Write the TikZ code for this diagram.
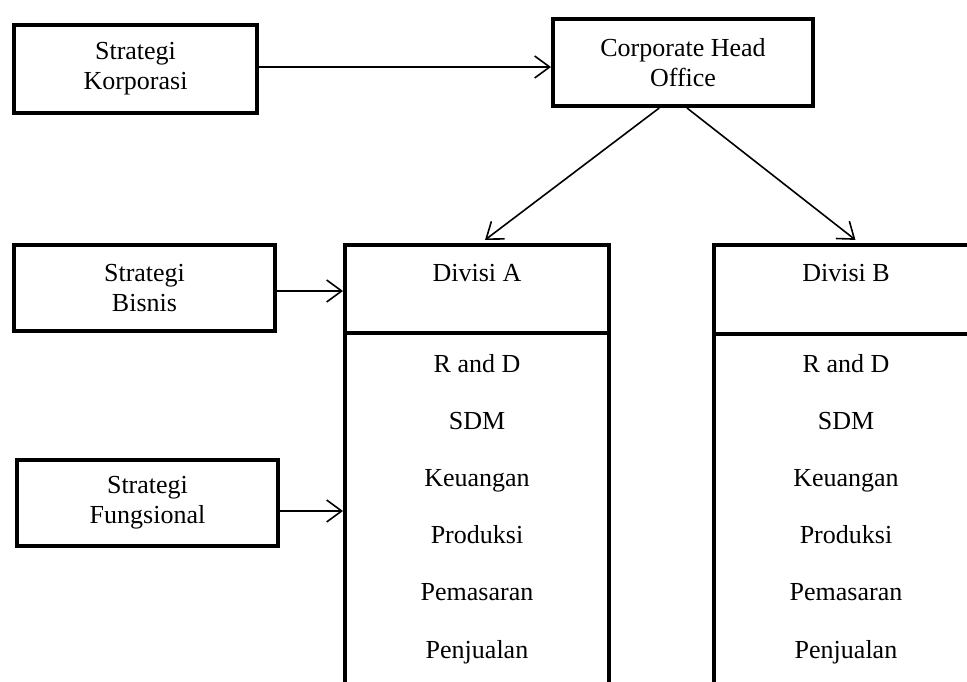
\documentclass[tikz,border=0pt]{standalone}
\usepackage{fontspec}
\setmainfont{Liberation Serif}
\usetikzlibrary{arrows.meta,calc}
\begin{document}
\begin{tikzpicture}[x=1pt,y=-1pt,
  txt/.style={font=\fontsize{26}{30}\selectfont},
  box/.style={draw,line width=4pt,txt,align=center,inner sep=0pt},
  arr/.style={line width=1.6pt,-{Straight Barb[length=15pt,width=22pt,line width=1.6pt]}},
  item/.style={txt,anchor=base,inner sep=0pt},
  thickline/.style={line width=4pt}]
\useasboundingbox (0,0) rectangle (967,682);
\node[box,minimum width=243pt,minimum height=88pt] (korp) at (135.5,69) {Strategi\\Korporasi};
\node[box,minimum width=260pt,minimum height=87pt] (cho) at (683,62.5) {Corporate Head\\Office};
\node[box,minimum width=261pt,minimum height=86pt] (bis) at (144.5,288) {Strategi\\Bisnis};
\node[box,minimum width=261pt,minimum height=86pt] (fun) at (147.5,503) {Strategi\\Fungsional};
\node[draw,thickline,minimum width=264pt,minimum height=88pt,inner sep=0pt] (divA) at (477,289) {};
\node[draw,thickline,minimum width=264pt,minimum height=89pt,inner sep=0pt] (divB) at (846,289.5) {};
\node[item] (tA) at (477,281) {Divisi A};
\node[item] (tB) at (846,281) {Divisi B};
\coordinate (aBL) at ($(divA.south west)+(2,0)$);
\coordinate (aBR) at ($(divA.south east)+(-2,0)$);
\coordinate (bBL) at ($(divB.south west)+(2,0)$);
\draw[thickline] (aBL) -- (aBL |- 0,700);
\draw[thickline] (aBR) -- (aBR |- 0,700);
\draw[thickline] (bBL) -- (bBL |- 0,700);
\foreach \t [count=\i from 0] in {R and D,SDM,Keuangan,Produksi,Pemasaran,Penjualan}{
  \node[item] (a\i) at (477,372+57.2*\i) {\t};
  \node[item] (b\i) at (846,372+57.2*\i) {\t};
}
\draw[arr] (korp.east |- 0,67) -- (cho.west |- 0,67);
\draw[arr] (bis.east |- 0,291) -- (divA.west |- 0,291);
\draw[arr] (fun.east |- 0,511) -- (divA.west |- 0,511);
\draw[arr,shorten >=5pt] ($(cho.south west)!0.41!(cho.south east)$) -- ($(divA.north west)!0.515!(divA.north east)$);
\draw[arr,shorten >=5pt] ($(cho.south west)!0.515!(cho.south east)$) -- ($(divB.north west)!0.55!(divB.north east)$);
\end{tikzpicture}
\end{document}
